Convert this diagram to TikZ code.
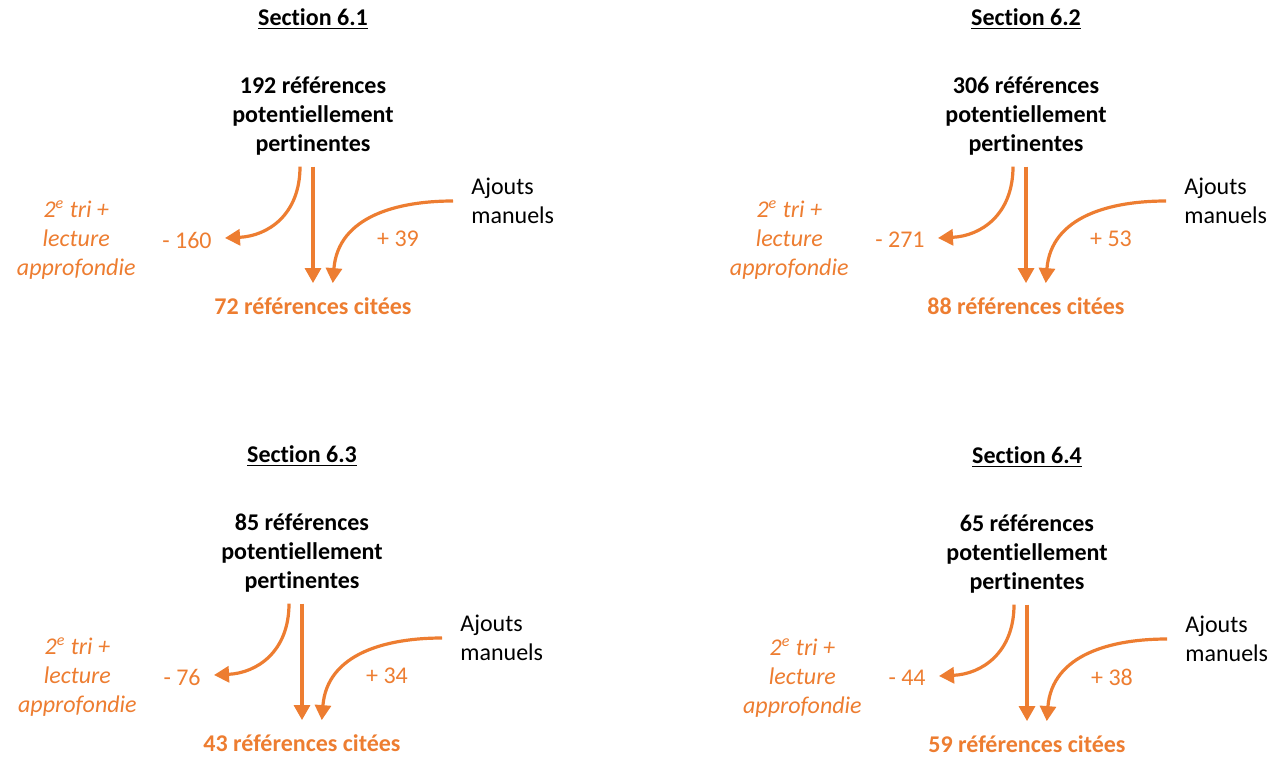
\documentclass[tikz,border=0pt]{standalone}
\usepackage{fontspec}
\setmainfont{Carlito}[Ligatures=NoCommon]
\usetikzlibrary{arrows.meta,positioning}
\definecolor{refOrange}{RGB}{237,125,49}

\begin{document}
\begin{tikzpicture}[x=0.5pt, y=-0.5pt,
    every node/.style={font=\fontsize{12}{14.5}\selectfont, inner sep=2pt},
    heading/.style={font=\fontsize{12}{14.5}\selectfont\bfseries},
    total/.style={font=\fontsize{12}{14.5}\selectfont\bfseries, align=center},
    cited/.style={font=\fontsize{12}{14.5}\selectfont\bfseries, text=refOrange},
    delta/.style={text=refOrange},
    reason/.style={font=\fontsize{12}{14.5}\selectfont\itshape, text=refOrange, align=center},
    added/.style={align=left},
    flow/.style={-{Triangle[length=7.5pt,width=8pt]}, line width=1.6pt, draw=refOrange, fill=none}]
  \useasboundingbox (0,0) rectangle (1277,758);
  % One block per section: total, removed, added, cited
  \foreach \i/\cx/\cy/\secnum/\ntot/\nminus/\nplus/\ncite in {
      1/313/0/6.1/192/160/39/72,
      2/1026/0/6.2/306/271/53/88,
      3/302/437/6.3/85/76/34/43,
      4/1027/438/6.4/65/44/38/59} {
    \begin{scope}[shift={(\cx,\cy)}]
      \node[heading] (sec\i) at (0,19) {\underline{Section \secnum}};
      \node[total] (tot\i) at (0,116) {\ntot{} références\\potentiellement\\pertinentes};
      \node[cited] (cite\i) at (0,306) {\ncite{} références citées};
      % Labels beside the arrows
      \node[delta, anchor=east] (minus\i) at (-97,240) {- \nminus};
      \node[reason, left=9pt of minus\i] (tri\i) {2\textsuperscript{e} tri +\\lecture\\approfondie};
      \node[delta] (plus\i) at (85,239) {+ \nplus};
      \node[added, anchor=west] (ajout\i) at (154,201) {Ajouts\\manuels};
      % Arrows
      \draw[flow, shorten <=3.5pt, shorten >=5pt] (tot\i) -- (cite\i);
      \draw[flow] ([xshift=-6.5pt, yshift=-3.5pt]tot\i.south)
        .. controls +(0,48) and +(43,-2) .. ([xshift=4.5pt, yshift=1pt]minus\i.east);
      \draw[flow, shorten >=5pt] ([xshift=-7pt]ajout\i.west)
        .. controls +(-55,0) and +(6,-77) .. ([xshift=9.5pt]cite\i.north);
    \end{scope}
  }
\end{tikzpicture}
\end{document}
